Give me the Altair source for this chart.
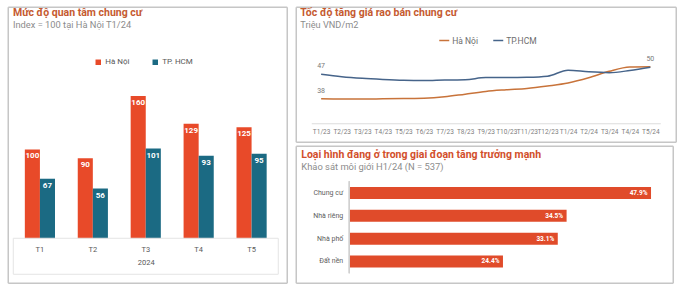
import altair as alt
import pandas as pd

# ---------- data ----------
months_a = ["T1", "T2", "T3", "T4", "T5"]
cities_a = ["Hà Nội", "TP. HCM"]
hn_interest = [100, 90, 160, 129, 125]
hcm_interest = [67, 56, 101, 93, 95]

months_b = ["T1/23", "T2/23", "T3/23", "T4/23", "T5/23", "T6/23", "T7/23", "T8/23",
            "T9/23", "T10/23", "T11/23", "T12/23", "T1/24", "T2/24", "T3/24", "T4/24", "T5/24"]
cities_b = ["Hà Nội", "TP.HCM"]
hn_price = [38.0, 37.9, 37.9, 38.0, 38.1, 38.2, 38.7, 39.7, 40.7, 41.3, 41.8, 42.7, 43.8, 45.7, 48.1, 49.7, 49.8]
hcm_price = [47.0, 46.1, 45.5, 45.1, 44.8, 44.7, 44.9, 45.0, 45.8, 45.8, 45.9, 46.3, 48.5, 47.9, 47.6, 48.4, 49.6]

types_c = ["Chung cư", "Nhà riêng", "Nhà phố", "Đất nền"]
share_c = [47.9, 34.5, 33.1, 24.4]

FONT = "Roboto"
TITLE_A = "#c55a30"
TITLE_C = "#d24f2b"
SUB = "#8c8c8c"
RED = "#e84a29"
TEAL = "#1b6a83"
BORDER = "#c6c6c6"
ONE = pd.DataFrame({"a": [0]})


def txt(s, x, y, size, color, weight="normal"):
    return alt.Chart(pd.DataFrame({"t": [s]})).mark_text(
        align="left", baseline="middle", fontSize=size, fontWeight=weight, color=color, font=FONT
    ).encode(x=alt.value(x), y=alt.value(y), text="t:N")


def frame(x1, y1, x2, y2, color=BORDER, sw=1.5):
    base = alt.Chart(ONE).mark_rule(color=color, strokeWidth=sw)
    return [
        base.encode(x=alt.value(x1), x2=alt.value(x2), y=alt.value(y1)),
        base.encode(x=alt.value(x1), x2=alt.value(x2), y=alt.value(y2)),
        base.encode(x=alt.value(x1), y=alt.value(y1), y2=alt.value(y2)),
        base.encode(x=alt.value(x2), y=alt.value(y1), y2=alt.value(y2)),
    ]


# ---------- panel A ----------
dfA = pd.DataFrame({
    "month": months_a * 2,
    "city": [cities_a[0]] * len(months_a) + [cities_a[1]] * len(months_a),
    "value": hn_interest + hcm_interest,
})
baseA = alt.Chart(dfA).encode(
    x=alt.X("month:N",
            scale=alt.Scale(paddingInner=0.43, paddingOuter=0.2),
            axis=alt.Axis(title="2024", labelAngle=0, ticks=False, domain=False,
                          labelFontSize=7.5, labelColor="#595959", labelPadding=7,
                          titleFontSize=7.5, titleFontWeight="normal", titleColor="#595959",
                          titlePadding=6, labelFont=FONT, titleFont=FONT)),
    xOffset=alt.XOffset("city:N"),
    y=alt.Y("value:Q", scale=alt.Scale(domain=[0, 206], nice=False), axis=None),
)
barsA = baseA.mark_bar().encode(
    color=alt.Color("city:N",
                    scale=alt.Scale(domain=cities_a, range=[RED, TEAL]),
                    legend=alt.Legend(title=None, orient="none", legendX=80, legendY=3,
                                      direction="horizontal", symbolType="square", symbolSize=30,
                                      labelFontSize=8, labelColor="#595959", labelFont=FONT,
                                      columnPadding=21, padding=0, labelOffset=3))
)
labA = baseA.mark_text(baseline="top", dy=3, color="white", fontWeight="bold", fontSize=8,
                       font=FONT).encode(text="value:Q")
panelA = alt.layer(
    barsA, labA,
    *frame(-6, -48, 273, 228),
    *frame(-1, 183, 264, 219, color="#e4e4e4", sw=1),
    txt("Mức độ quan tâm chung cư", -1.3, -42, 10.5, TITLE_A, "bold"),
    txt("Index = 100 tại Hà Nội T1/24", -1.3, -30.5, 9.3, SUB),
).properties(width=263, height=183)

# ---------- panel B ----------
dfB = pd.DataFrame({
    "month": months_b * 2,
    "city": [cities_b[0]] * len(months_b) + [cities_b[1]] * len(months_b),
    "price": hn_price + hcm_price,
})
xB = alt.X("month:O", sort=months_b,
           scale=alt.Scale(type="point", padding=0.48),
           axis=alt.Axis(title=None, labelAngle=0, ticks=False, domainColor="#dcdcdc",
                         labelFontSize=6.5, labelColor="#808080", labelPadding=5, labelFont=FONT))
yB = alt.Y("price:Q", scale=alt.Scale(domain=[29, 54], nice=False, zero=False), axis=None)
lineB = alt.Chart(dfB).mark_line(interpolate="monotone", strokeWidth=1.5).encode(
    x=xB, y=yB,
    color=alt.Color("city:N",
                    scale=alt.Scale(domain=cities_b, range=["#c8733a", "#46648a"]),
                    legend=alt.Legend(title=None, orient="none", legendX=127, legendY=-21,
                                      direction="horizontal", symbolType="stroke",
                                      symbolStrokeWidth=1.5, symbolSize=100,
                                      labelFontSize=8.5, labelColor="#6e6e6e", labelFont=FONT,
                                      columnPadding=12, padding=0, labelOffset=2)),
)
dfLab = pd.DataFrame({
    "month": [months_b[0], months_b[0], months_b[-1]],
    "price": [hcm_price[0], hn_price[0], hn_price[-1]],
})
labB = alt.Chart(dfLab).mark_text(dy=-8, fontSize=7, color="#7a7a7a", font=FONT).encode(
    x=xB, y=yB, text=alt.Text("price:Q", format=".0f"))
panelB = alt.layer(
    lineB, labB,
    *frame(-15, -48, 365, 87),
    txt("Tốc độ tăng giá rao bán chung cư", -11, -42, 10.5, TITLE_A, "bold"),
    txt("Triệu VND/m2", -11, -30.5, 9.2, SUB),
).properties(width=349, height=68)

# ---------- panel C ----------
dfC = pd.DataFrame({"type": types_c, "share": share_c})
yC = alt.Y("type:N", sort=types_c, scale=alt.Scale(paddingInner=0.474, paddingOuter=0.254), axis=None)
xscaleC = alt.Scale(domain=[-6.03, 50], nice=False, zero=False)
barsC = alt.Chart(dfC).mark_bar(color="#e04b2a").encode(
    y=yC, x=alt.X("share:Q", scale=xscaleC, axis=None), x2=alt.datum(0))
valC = alt.Chart(dfC).transform_calculate(
    lab="format(datum.share, '.1f') + '%'"
).mark_text(align="right", dx=-3.5, color="white", fontWeight="bold", fontSize=6.5, font=FONT).encode(
    y=yC, x=alt.X("share:Q", scale=xscaleC, axis=None), text="lab:N")
catC = alt.Chart(dfC).mark_text(align="right", dx=-6, fontSize=7, color="#606060", font=FONT).encode(
    y=yC, x=alt.datum(0), text="type:N")
ruleC = alt.Chart(dfC).mark_rule(color="#d0d0d0").encode(
    x=alt.datum(0), y=alt.value(0), y2=alt.value(92))
panelC = alt.layer(
    barsC, valC, catC, ruleC,
    *frame(-15, -35, 362, 102),
    txt("Loại hình đang ở trong giai đoạn tăng trưởng mạnh", -10, -26, 10.5, TITLE_C, "bold"),
    txt("Khảo sát môi giới H1/24 (N = 537)", -10, -14, 9.4, SUB),
).properties(width=353, height=92)

right = alt.vconcat(panelB, panelC, spacing=0).resolve_scale(color="independent")
chart = alt.hconcat(
    panelA, right, spacing=5,
).resolve_scale(color="independent").properties(
    padding={"left": 6.25, "top": 5.25, "right": 0, "bottom": 0},
    background="white",
).configure_view(stroke="transparent")

chart.save("out.html", embed_options={"renderer": "svg", "actions": False})
